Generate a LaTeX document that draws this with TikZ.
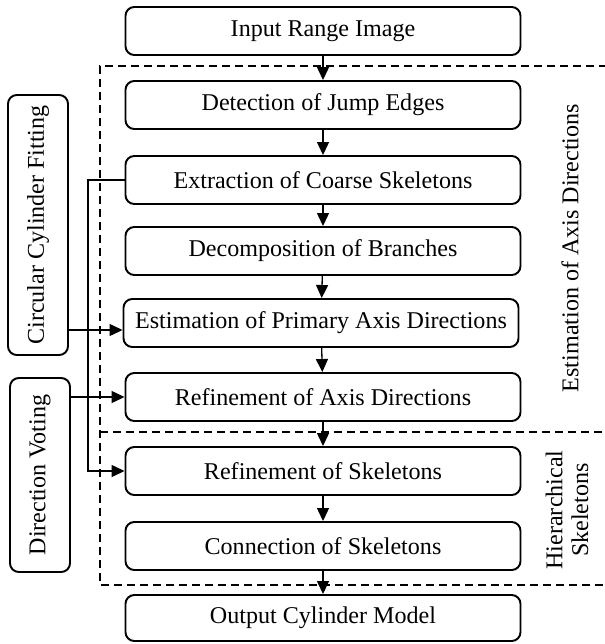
\documentclass[tikz,border=0pt]{standalone}
\usepackage{fontspec}
\setmainfont{Liberation Serif}
\usetikzlibrary{positioning,arrows.meta}

\begin{document}
\begin{tikzpicture}[
  font=\fontsize{13.7}{14.6}\selectfont,
  proc/.style={
    rectangle, rounded corners=5pt,
    draw=black, line width=1.1pt,
    minimum height=9.6mm, minimum width=79mm,
    inner sep=2pt, fill=white,
    align=center
  },
  side/.style={proc, rotate=90, minimum height=12mm},
  flow/.style={
    -{Triangle[length=2.6mm,width=2.4mm]},
    draw=black, line width=0.75pt
  },
  region/.style={
    draw=black, line width=0.75pt,
    dash pattern=on 1.6mm off 1mm
  },
  tag/.style={rotate=90, align=center, inner sep=0pt}
]

\useasboundingbox (0,0) rectangle (12.08,-12.88);

% ─── Dashed regions ─────────────────────────────────────────
\draw[region] (12.4,-1.32) -| (2.0,-11.7) -- (12.4,-11.7);
\draw[region] (2.0,-8.64) -- (12.4,-8.64);

% ─── Main pipeline ──────────────────────────────────────────
\node[proc] (in)  at (6.46, -0.62)  {Input Range Image};
\node[proc] (det) at (6.46, -2.10)  {Detection of Jump Edges};
\node[proc] (ext) at (6.46, -3.60)  {Extraction of Coarse Skeletons};
\node[proc] (dec) at (6.46, -5.02)  {Decomposition of Branches};
\node[proc] (est) at (6.42, -6.46)  {Estimation of Primary Axis Directions};
\node[proc] (rax) at (6.46, -7.94)  {Refinement of Axis Directions};
\node[proc] (rsk) at (6.46, -9.42)  {Refinement of Skeletons};
\node[proc] (con) at (6.46, -10.92) {Connection of Skeletons};
\node[proc, minimum height=9.2mm] (out) at (6.46, -12.36) {Output Cylinder Model};

\draw[flow] (in)  -- (det);
\draw[flow] (det) -- (ext);
\draw[flow] (ext) -- (dec);
\draw[flow] (dec) -- (est);
\draw[flow] (est) -- (rax);
\draw[flow] (rax) -- (rsk);
\draw[flow] (rsk) -- (con);
\draw[flow] (con) -- (out);

% ─── Side modules ───────────────────────────────────────────
\node[side, minimum width=52mm]   (cyl) at (0.76, -4.50) {Circular Cylinder Fitting};
\node[side, minimum width=38.8mm] (dv)  at (0.80, -9.50) {Direction Voting};

\coordinate (estin) at ([yshift=-1.4mm]est.west);
\draw[flow] (cyl.south |- estin) -- (estin);
\draw[flow] (dv.south |- rax.west) -- (rax.west);

% ─── Skeleton feedback ──────────────────────────────────────
\coordinate (bus) at (1.76, 0);
\draw[flow] (ext.west) -- (bus |- ext.west) -- (bus |- rsk.west) -- (rsk.west);

% ─── Region labels ──────────────────────────────────────────
\node[tag] (estlbl)  at (11.40, -4.96)  {Estimation of Axis Directions};
\node[tag] (hierlbl) at (11.34, -10.20) {Hierarchical\\Skeletons};

\end{tikzpicture}
\end{document}
